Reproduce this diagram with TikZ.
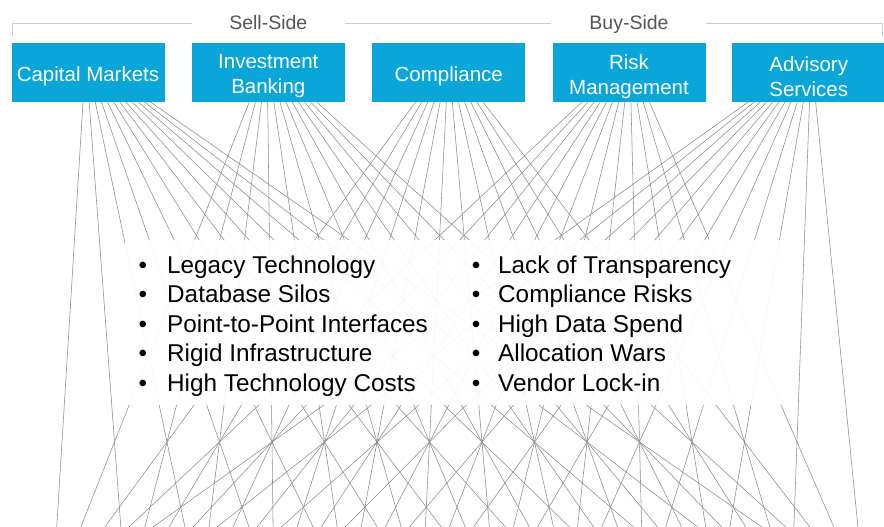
\documentclass[tikz,border=0pt]{standalone}
\usepackage{fontspec}
\setmainfont{Liberation Sans}
\definecolor{boxblue}{RGB}{10,166,218}
\definecolor{linegray}{RGB}{140,140,140}
\definecolor{sidegray}{RGB}{85,85,85}
\definecolor{bracketgray}{RGB}{205,205,205}
\begin{document}
\begin{tikzpicture}[x=1pt,y=-1pt,
  box/.style={fill=boxblue, minimum width=153pt, minimum height=59pt, inner sep=0pt},
  boxtext/.style={text=white, inner sep=0pt, align=center, font=\fontsize{20.5}{25}\selectfont},
  web/.style={draw=linegray, line width=0.55pt},
  item/.style={anchor=base west, inner sep=0pt, font=\fontsize{24.3}{29}\selectfont},
  dot/.style={anchor=base, inner sep=0pt, font=\fontsize{24.3}{29}\selectfont},
  side/.style={text=sidegray, font=\fontsize{19.5}{22}\selectfont, inner sep=0pt, anchor=base},
  bracket/.style={draw=bracketgray, line width=0.8pt}]
\useasboundingbox (0,0) rectangle (884,527);
\fill[white] (0,0) rectangle (884,527);
% web of lines
\foreach \j in {0,...,4}{
  \foreach \i in {0,...,11}{
    \pgfmathsetmacro{\sx}{83+166.3*\j+6.13*\i}
    \pgfmathsetmacro{\cx}{62+52.5*(\i+\j)}
    \pgfmathsetmacro{\ex}{\sx+1.25*(\cx-\sx)}
    \coordinate (s\j-\i) at (\sx,102);
    \coordinate (e\j-\i) at (\ex,527);
    \draw[web] (s\j-\i) -- (e\j-\i);
  }
}
% text panel
\fill[white, opacity=0.93] (125,240) rectangle (785,405);
% boxes
\node[box] (cm) at (88,72.3) {};
\node[box] (ib) at (268.3,72.3) {};
\node[box] (co) at (448.7,72.3) {};
\node[box] (rm) at (629,72.3) {};
\node[box] (as) at (808.7,72.3) {};
\node[boxtext] (cmt) at ([yshift=-3.5pt]cm.center) {Capital Markets};
\node[boxtext] (ibt) at ([yshift=-4pt]ib.center) {Investment\\Banking};
\node[boxtext] (cot) at ([yshift=-3.5pt]co.center) {Compliance};
\node[boxtext] (rmt) at ([yshift=-4pt]rm.center) {Risk\\Management};
\node[boxtext] (ast) at ([yshift=-4pt]as.center) {Advisory\\Services};
% bracket
\draw[bracket] (12,36) -- (12,23) -- (192,23);
\draw[bracket] (345,23) -- (551,23);
\draw[bracket] (706,23) -- (882,23) -- (882,36);
\node[side] (sell) at (268.3,30) {Sell-Side};
\node[side] (buy) at (629,30) {Buy-Side};
% bullets
\foreach \t [count=\n from 0] in {Legacy Technology, Database Silos, Point-to-Point Interfaces, Rigid Infrastructure, High Technology Costs}{
  \node[dot] (lb\n) at (143,273+29.5*\n) {•};
  \node[item] (lt\n) at (167,273+29.5*\n) {\t};
}
\foreach \t [count=\n from 0] in {Lack of Transparency, Compliance Risks, High Data Spend, Allocation Wars, Vendor Lock-in}{
  \node[dot] (rb\n) at (476,273+29.5*\n) {•};
  \node[item] (rt\n) at (498,273+29.5*\n) {\t};
}
\end{tikzpicture}
\end{document}
